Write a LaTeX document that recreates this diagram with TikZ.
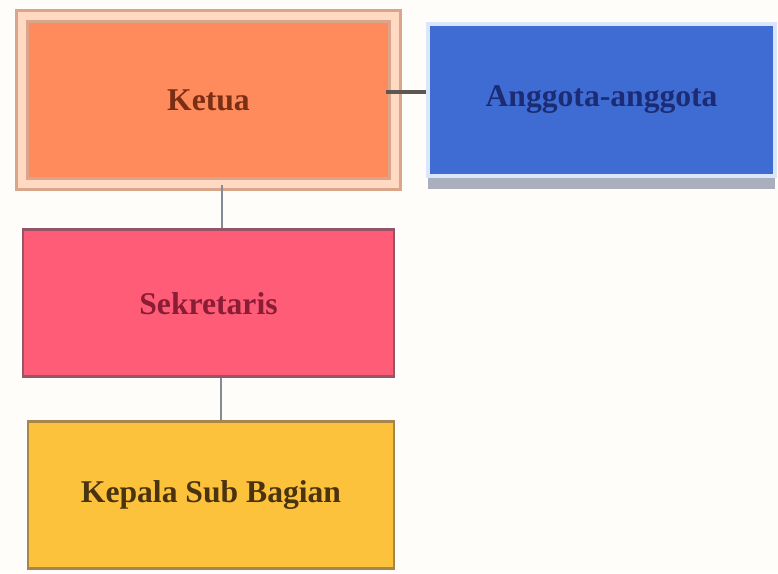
\documentclass[tikz,border=0pt]{standalone}
\usepackage{fontspec}
\setmainfont{Liberation Serif}
\usetikzlibrary{positioning,shadows}
\definecolor{Paper}{HTML}{FEFDFA}
\definecolor{Orange}{HTML}{FF8B5C}
\definecolor{OrangeEdge}{HTML}{D9A68C}
\definecolor{OrangeSoft}{HTML}{FFD9C2}
\definecolor{OrangeInk}{HTML}{7A2E14}
\definecolor{Blue}{HTML}{3F6CD3}
\definecolor{BlueEdge}{HTML}{DCE6FA}
\definecolor{BlueInk}{HTML}{1C2C74}
\definecolor{Shade}{HTML}{A9AFBC}
\definecolor{Pink}{HTML}{FF5C78}
\definecolor{PinkEdge}{HTML}{965468}
\definecolor{PinkInk}{HTML}{8A1C34}
\definecolor{Yellow}{HTML}{FDC23C}
\definecolor{YellowEdge}{HTML}{A5874E}
\definecolor{YellowInk}{HTML}{4A3410}
\definecolor{Wire}{HTML}{848B94}
\definecolor{WireDark}{HTML}{5C5752}
\tikzset{
  orgbox/.style={align=center,font=\fontsize{18}{21}\selectfont\bfseries,inner sep=0pt},
  headbox/.style={orgbox,draw=OrangeEdge,double=OrangeSoft,line width=1.5pt,double distance=5pt,fill=Orange,text=OrangeInk},
  memberbox/.style={orgbox,draw=BlueEdge,line width=2pt,fill=Blue,text=BlueInk,
    drop shadow={shadow xshift=0pt,shadow yshift=-0.26cm,fill=Shade,opacity=1}},
  secbox/.style={orgbox,draw=PinkEdge,line width=1.6pt,fill=Pink,text=PinkInk},
  subbox/.style={orgbox,draw=YellowEdge,line width=1.6pt,fill=Yellow,text=YellowInk},
  link/.style={draw=Wire,line width=1.7pt}
}

\begin{document}
\begin{tikzpicture}
  \fill[Paper] (0,0) rectangle (15.56,-11.46);
  \useasboundingbox (0,0) rectangle (15.56,-11.46);
  \node[headbox,minimum width=7.46cm,minimum height=3.36cm] (ketua) at (4.17,-2.0) {Ketua};
  \node[memberbox,minimum width=6.94cm,minimum height=3.04cm,right=0.6cm of ketua] (anggota) {Anggota-anggota};
  \node[secbox,minimum width=7.42cm,minimum height=2.94cm,below=0.86cm of ketua] (sek) {Sekretaris};
  \node[subbox,minimum width=7.32cm,minimum height=2.94cm,below=0.84cm of sek,xshift=0.05cm] (kasub) {Kepala Sub Bagian};
  \draw[link,draw=WireDark,line width=2pt] ([yshift=0.16cm,xshift=-0.2cm]ketua.east) -- ([yshift=0.16cm]anggota.west);
  \draw[link] ([xshift=0.27cm]ketua.south) -- ([xshift=0.27cm]ketua.south |- sek.north);
  \draw[link] ([xshift=0.25cm]sek.south) -- ([xshift=0.25cm]sek.south |- kasub.north);
\end{tikzpicture}
\end{document}
